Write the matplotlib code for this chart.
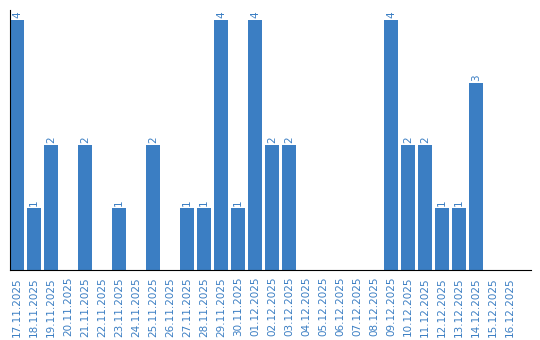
import matplotlib.pyplot as plt

dates = ['17.11.2025', '18.11.2025', '19.11.2025', '20.11.2025', '21.11.2025',
         '22.11.2025', '23.11.2025', '24.11.2025', '25.11.2025', '26.11.2025',
         '27.11.2025', '28.11.2025', '29.11.2025', '30.11.2025', '01.12.2025',
         '02.12.2025', '03.12.2025', '04.12.2025', '05.12.2025', '06.12.2025',
         '07.12.2025', '08.12.2025', '09.12.2025', '10.12.2025', '11.12.2025',
         '12.12.2025', '13.12.2025', '14.12.2025', '15.12.2025', '16.12.2025']
counts = [4, 1, 2, 0, 2, 0, 1, 0, 2, 0, 1, 1, 4, 1, 4, 2, 2,
          0, 0, 0, 0, 0, 4, 2, 2, 1, 1, 3, 0, 0]

blue = '#3b7ec3'
width = 14 / 17

fig = plt.figure(figsize=(5.4, 3.4), dpi=100)
ax = fig.add_axes([10 / 540, 1 - 270 / 340, 521 / 540, 260 / 340])

x = list(range(len(dates)))
ax.bar(x, counts, width=width, color=blue)

for xi, c in zip(x, counts):
    if c > 0:
        ax.text(xi, c + 0.03, str(c), rotation=90, ha='center', va='bottom',
                color=blue, fontsize=7.5)

ax.set_xlim(-width / 2, -width / 2 + 521 / 17)
ax.set_ylim(0, 4 + 10 / 62.5)
ax.set_xticks(x)
ax.set_xticklabels(dates, rotation=90, color=blue, fontsize=7.5)
ax.set_yticks([])
ax.tick_params(axis='x', length=0, pad=5)
ax.spines['top'].set_visible(False)
ax.spines['right'].set_visible(False)

fig.savefig('out.png', dpi=100)
